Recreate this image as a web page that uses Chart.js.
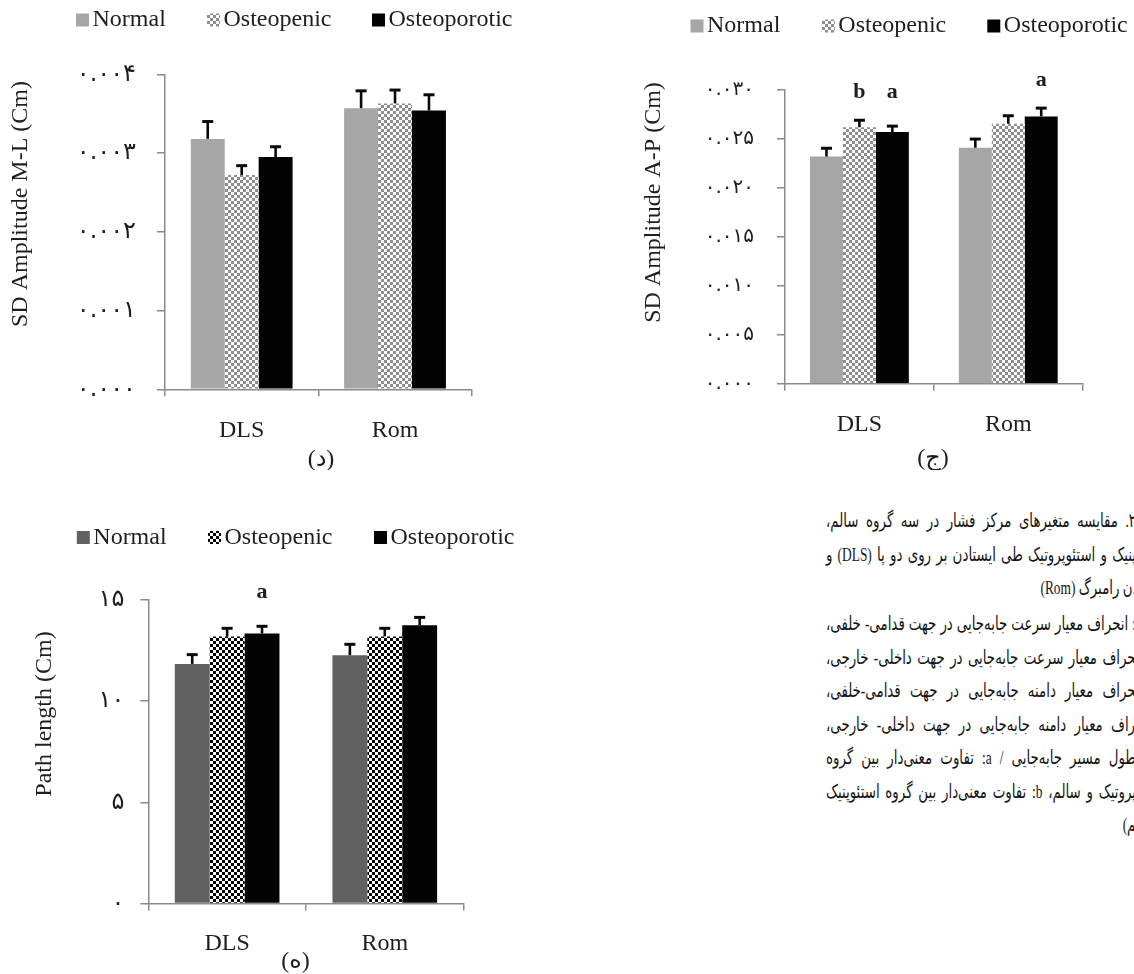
<!DOCTYPE html>
<html lang="fa">
<head>
<meta charset="utf-8">
<script src="https://cdn.jsdelivr.net/npm/chart.js@4.4.1/dist/chart.umd.min.js"></script>
<style>
  html, body { margin: 0; padding: 0; background: #fff; width: 1134px; height: 974px; overflow: hidden; position: relative; }
  canvas.panel { position: absolute; }
  .caption { position: absolute; left: 684px; width: 452px; transform: scaleX(0.686); transform-origin: right top;
             font-family: "Liberation Serif", "DejaVu Sans", serif; font-size: 19.5px; color: #151515; }
  .caption div { direction: rtl; height: 33.5px; line-height: 33.5px; text-align: justify; text-align-last: justify; overflow: visible; }
  .caption div.last { text-align: right; text-align-last: right; }
</style>
</head>
<body>
<canvas id="chartML" class="panel" width="560" height="470" style="left:0;top:0"></canvas>
<canvas id="chartAP" class="panel" width="567" height="470" style="left:567px;top:0"></canvas>
<canvas id="chartPath" class="panel" width="560" height="504" style="left:0;top:470px"></canvas>

<div class="caption" style="top:504px">
  <div>۲. مقایسه متغیرهای مرکز فشار در سه گروه سالم،</div>
  <div>پنیک و استئوپروتیک طی ایستادن بر روی دو پا (DLS) و</div>
  <div class="last">.ن رامبرگ (Rom)</div>
</div>
<div class="caption" style="top:607px">
  <div>: انحراف معیار سرعت جابه‌جایی در جهت قدامی- خلفی،</div>
  <div>&zwj;حراف معیار سرعت جابه‌جایی در جهت داخلی- خارجی،</div>
  <div>&zwj;حراف معیار دامنه جابه‌جایی در جهت قدامی-خلفی،</div>
  <div>&zwj;راف معیار دامنه جابه‌جایی در جهت داخلی- خارجی،</div>
  <div>طول مسیر جابه‌جایی / a: تفاوت معنی‌دار بین گروه</div>
  <div>پروتیک و سالم، b: تفاوت معنی‌دار بین گروه استئوپنیک</div>
  <div class="last">&zwj;م)</div>
</div>

<script>
// ---- data ----
const categories = ['DLS', 'Rom'];
const seriesNames = ['Normal', 'Osteopenic', 'Osteoporotic'];

// (د) SD Amplitude M-L (Cm): means and upper error
const mlNormal = [0.00318, 0.00357];
const mlNormalErr = [0.00022, 0.00022];
const mlOsteopenic = [0.00272, 0.00363];
const mlOsteopenicErr = [0.00012, 0.00017];
const mlOsteoporotic = [0.00295, 0.00354];
const mlOsteoporoticErr = [0.00013, 0.00020];
const mlTickLabels = ['۰.۰۰۰', '۰.۰۰۱', '۰.۰۰۲', '۰.۰۰۳', '۰.۰۰۴'];

// (ج) SD Amplitude A-P (Cm)
const apNormal = [0.0232, 0.0241];
const apNormalErr = [0.00085, 0.00089];
const apOsteopenic = [0.0262, 0.02655];
const apOsteopenicErr = [0.00071, 0.00082];
const apOsteoporotic = [0.0257, 0.0273];
const apOsteoporoticErr = [0.00061, 0.00085];
const apTickLabels = ['۰.۰۰۰', '۰.۰۰۵', '۰.۰۱۰', '۰.۰۱۵', '۰.۰۲۰', '۰.۰۲۵', '۰.۰۳۰'];
const apMarks = [
  { category: 0, series: 1, text: 'b' },
  { category: 0, series: 2, text: 'a' },
  { category: 1, series: 2, text: 'a' }
];

// (ه) Path length (Cm)
const pathNormal = [11.84, 12.27];
const pathNormalErr = [0.46, 0.54];
const pathOsteopenic = [13.19, 13.20];
const pathOsteopenicErr = [0.41, 0.40];
const pathOsteoporotic = [13.35, 13.75];
const pathOsteoporoticErr = [0.35, 0.39];
const pathTickLabels = ['۰', '۵', '۱۰', '۱۵'];
const pathMarks = [
  { category: 0, series: 2, text: 'a' }
];

// ---- styling helpers ----
const SERIF = '"Liberation Serif", "DejaVu Sans", serif';
const TICKFONT = '"DejaVu Sans", "Liberation Serif", sans-serif';
const AXIS = '#8a8a8a';
const INK = '#1e1e1e';

function checker(c1, c2, cell) {
  const cv = document.createElement('canvas');
  cv.width = cv.height = cell * 2;
  const g = cv.getContext('2d');
  g.fillStyle = c2; g.fillRect(0, 0, cell * 2, cell * 2);
  g.fillStyle = c1; g.fillRect(0, 0, cell, cell); g.fillRect(cell, cell, cell, cell);
  return g.createPattern(cv, 'repeat');
}

// error bars, significance letters, legend, axis title and panel label
const decor = {
  id: 'decor',
  afterDatasetsDraw(chart, args, o) {
    const ctx = chart.ctx, y = chart.scales.y;
    ctx.save();
    const tops = [];
    chart.data.datasets.forEach((ds, di) => {
      const meta = chart.getDatasetMeta(di);
      meta.data.forEach((bar, i) => {
        const top = y.getPixelForValue(ds.data[i] + ds.errors[i]);
        tops[i] = Math.min(tops[i] === undefined ? Infinity : tops[i], top);
        ctx.strokeStyle = '#0a0a0a';
        ctx.lineWidth = 2.6;
        ctx.beginPath(); ctx.moveTo(bar.x, bar.y); ctx.lineTo(bar.x, top); ctx.stroke();
        ctx.lineWidth = 3;
        ctx.beginPath(); ctx.moveTo(bar.x - 5.5, top); ctx.lineTo(bar.x + 5.5, top); ctx.stroke();
      });
    });
    ctx.fillStyle = INK;
    ctx.font = 'bold 22px ' + SERIF;
    ctx.textAlign = 'center';
    ctx.textBaseline = 'middle';
    (o.marks || []).forEach(m => {
      const bar = chart.getDatasetMeta(m.series).data[m.category];
      ctx.fillText(m.text, bar.x, tops[m.category] - o.markGap);
    });
    ctx.restore();
  },
  afterDraw(chart, args, o) {
    const ctx = chart.ctx;
    ctx.save();
    // legend
    ctx.font = '24px ' + SERIF;
    ctx.textBaseline = 'middle';
    ctx.textAlign = 'left';
    chart.data.datasets.forEach((ds, i) => {
      const x = o.legendX[i];
      ctx.fillStyle = ds.backgroundColor;
      ctx.fillRect(x, o.legendY - 6.5, 13, 13);
      ctx.fillStyle = INK;
      ctx.fillText(ds.label, x + 16.5, o.legendY);
    });
    // y axis title
    ctx.save();
    ctx.translate(o.titleX, o.titleY);
    ctx.rotate(-Math.PI / 2);
    ctx.textAlign = 'center';
    ctx.fillText(o.title, 0, 0);
    ctx.restore();
    // panel label
    ctx.textAlign = 'center';
    ctx.fillText(o.panel, o.panelX, o.panelY);
    ctx.restore();
  }
};

function makeChart(id, cfg) {
  const canvas = document.getElementById(id);
  const W = canvas.width, H = canvas.height;
  const a = cfg.area;
  return new Chart(canvas, {
    type: 'bar',
    data: {
      labels: categories,
      datasets: cfg.series.map((s, i) => ({
        label: seriesNames[i],
        data: s.values,
        errors: s.errors,
        backgroundColor: s.color,
        borderWidth: 0,
        categoryPercentage: 0.664,
        barPercentage: 1
      }))
    },
    options: {
      responsive: false,
      animation: false,
      events: [],
      layout: { padding: { left: 0, top: a.top, right: W - a.right, bottom: 0 } },
      plugins: {
        legend: { display: false },
        tooltip: { enabled: false },
        decor: cfg.decor
      },
      scales: {
        x: {
          afterFit: s => { s.height = H - a.bottom; },
          border: { display: true, color: AXIS, width: 1.5 },
          grid: { display: true, drawOnChartArea: false, drawTicks: true, tickLength: 7, color: AXIS, lineWidth: 1.5, offset: true },
          ticks: { color: INK, font: { family: SERIF, size: 24 }, padding: cfg.xPad }
        },
        y: {
          min: cfg.min, max: cfg.max,
          afterFit: s => { s.width = a.left; },
          afterBuildTicks: s => { s.ticks = cfg.ticks.map(v => ({ value: v })); },
          border: { display: true, color: AXIS, width: 1.5 },
          grid: { display: true, drawOnChartArea: false, drawTicks: true, tickLength: 8, color: AXIS, lineWidth: 1.5 },
          ticks: {
            color: INK,
            font: { family: TICKFONT, size: cfg.tickSize },
            padding: cfg.yPad,
            callback: (v, i) => cfg.tickLabels[i]
          }
        }
      }
    },
    plugins: [decor]
  });
}

const lightChecker = checker('#8e8e8e', '#ffffff', 3);
const darkChecker = checker('#000000', '#ffffff', 3);

makeChart('chartML', {
  area: { left: 165, right: 471.7, top: 74.3, bottom: 389.3 },
  min: 0, max: 0.004, ticks: [0, 0.001, 0.002, 0.003, 0.004], tickLabels: mlTickLabels,
  tickSize: 24, yPad: 21, xPad: 20,
  series: [
    { values: mlNormal, errors: mlNormalErr, color: '#a6a6a6' },
    { values: mlOsteopenic, errors: mlOsteopenicErr, color: lightChecker },
    { values: mlOsteoporotic, errors: mlOsteoporoticErr, color: '#030303' }
  ],
  decor: {
    legendX: [76, 207, 372], legendY: 20,
    title: 'SD Amplitude M-L (Cm)', titleX: 20.5, titleY: 204,
    panel: '(د)', panelX: 321, panelY: 460,
    marks: [], markGap: 27.5
  }
});

makeChart('chartAP', {
  area: { left: 218, right: 515.7, top: 90, bottom: 383.7 },
  min: 0, max: 0.03, ticks: [0, 0.005, 0.01, 0.015, 0.02, 0.025, 0.03], tickLabels: apTickLabels,
  tickSize: 20, yPad: 23, xPad: 20,
  series: [
    { values: apNormal, errors: apNormalErr, color: '#a6a6a6' },
    { values: apOsteopenic, errors: apOsteopenicErr, color: lightChecker },
    { values: apOsteoporotic, errors: apOsteoporoticErr, color: '#030303' }
  ],
  decor: {
    legendX: [123.5, 254.8, 420.3], legendY: 26,
    title: 'SD Amplitude A-P (Cm)', titleX: 86.6, titleY: 202.5,
    panel: '(ج)', panelX: 366, panelY: 459,
    marks: apMarks, markGap: 27.5
  }
});

makeChart('chartPath', {
  area: { left: 148.3, right: 463.6, top: 130, bottom: 433.5 },
  min: 0, max: 15, ticks: [0, 5, 10, 15], tickLabels: pathTickLabels,
  tickSize: 24, yPad: 16, xPad: 19,
  series: [
    { values: pathNormal, errors: pathNormalErr, color: '#616161' },
    { values: pathOsteopenic, errors: pathOsteopenicErr, color: darkChecker },
    { values: pathOsteoporotic, errors: pathOsteoporoticErr, color: '#030303' }
  ],
  decor: {
    legendX: [76.8, 208, 374], legendY: 67.5,
    title: 'Path length (Cm)', titleX: 44.6, titleY: 244,
    panel: '(ه)', panelX: 295.5, panelY: 492,
    marks: pathMarks, markGap: 33.5
  }
});
</script>
</body>
</html>
